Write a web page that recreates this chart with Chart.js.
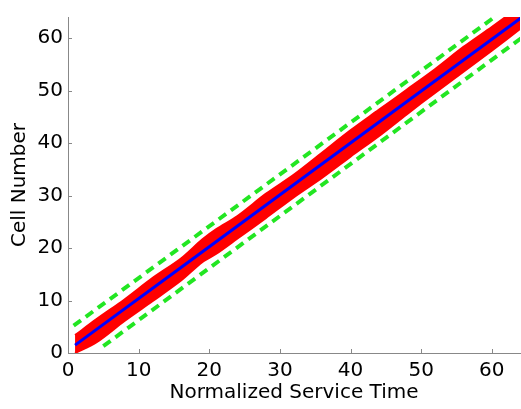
<!DOCTYPE html>
<html>
<head>
<meta charset="utf-8">
<script src="https://cdn.jsdelivr.net/npm/chart.js@4.4.0/dist/chart.umd.min.js"></script>
<style>
  html, body { margin: 0; padding: 0; background: #fff; }
  #wrap { width: 521px; height: 409px; }
</style>
</head>
<body>
<div id="wrap"><canvas id="grafico"></canvas></div>
<script>
// valores
const xBanda = [1, 4, 8, 12, 16, 19, 21, 24, 28, 32, 36, 40, 44, 48, 52, 56, 60, 64];
const bandaSup = [3.4, 6.4, 10.2, 14.3, 18.0, 21.6, 23.6, 26.1, 30.3, 34.0, 38.2, 42.4, 46.3, 50.2, 54.1, 58.3, 62.1, 66.0];
const bandaInf = [0.0, 2.0, 6.1, 9.9, 13.8, 17.3, 18.9, 21.8, 25.7, 29.7, 33.4, 37.4, 41.3, 45.5, 49.6, 53.6, 57.6, 61.7];

const xMedia = [1, 16, 32, 48, 64.2];
const media = [1.5, 16.3, 32.1, 47.9, 63.9];

const xLimSup = [0.8, 60.6];
const limSup = [5.2, 64.2];
const xLimInf = [5.0, 64.2];
const limInf = [1.3, 60.0];

const ticksX = [0, 10, 20, 30, 40, 50, 60];
const ticksY = [0, 10, 20, 30, 40, 50, 60];

const pontos = (xs, ys) => xs.map((x, i) => ({ x: x, y: ys[i] }));

// marcas de tick para dentro da área do gráfico
const ticksInternos = {
  id: 'ticksInternos',
  afterDraw(chart) {
    const { ctx, chartArea, scales } = chart;
    ctx.save();
    ctx.strokeStyle = '#888';
    ctx.lineWidth = 1;
    ctx.beginPath();
    ticksX.forEach(v => {
      const px = Math.round(scales.x.getPixelForValue(v)) + 0.5;
      ctx.moveTo(px, chartArea.bottom);
      ctx.lineTo(px, chartArea.bottom - 4);
    });
    ticksY.forEach(v => {
      const py = Math.round(scales.y.getPixelForValue(v)) + 0.5;
      ctx.moveTo(chartArea.left, py);
      ctx.lineTo(chartArea.left + 4, py);
    });
    ctx.stroke();
    ctx.restore();
  }
};

const fonte = { family: '"DejaVu Sans", sans-serif', size: 20 };

new Chart(document.getElementById('grafico'), {
  type: 'line',
  data: {
    datasets: [
      {
        data: pontos(xLimSup, limSup),
        borderColor: '#22e622',
        borderWidth: 4,
        borderDash: [9, 6],
        pointRadius: 0,
        fill: false,
        order: 1
      },
      {
        data: pontos(xLimInf, limInf),
        borderColor: '#22e622',
        borderWidth: 4,
        borderDash: [9, 6],
        pointRadius: 0,
        fill: false,
        order: 1
      },
      {
        data: pontos(xMedia, media),
        borderColor: '#0000ff',
        borderWidth: 3,
        pointRadius: 0,
        fill: false,
        order: 2
      },
      {
        data: pontos(xBanda, bandaSup),
        borderColor: '#ff0000',
        borderWidth: 2,
        backgroundColor: '#ff0000',
        pointRadius: 0,
        tension: 0.3,
        fill: '+1',
        order: 3
      },
      {
        data: pontos(xBanda, bandaInf),
        borderColor: '#ff0000',
        borderWidth: 2,
        pointRadius: 0,
        tension: 0.3,
        fill: false,
        order: 4
      }
    ]
  },
  options: {
    responsive: true,
    maintainAspectRatio: false,
    animation: false,
    layout: { padding: { top: 7, right: 1, left: 0, bottom: 0 } },
    plugins: {
      legend: { display: false },
      tooltip: { enabled: false }
    },
    scales: {
      x: {
        type: 'linear',
        min: 0,
        max: 64,
        afterFit: s => { s.height = 56; },
        grid: { display: false, drawTicks: false },
        border: { color: '#888', width: 1 },
        ticks: {
          stepSize: 10,
          includeBounds: false,
          padding: 6,
          maxRotation: 0,
          color: '#000',
          font: fonte
        },
        title: {
          display: true,
          text: 'Normalized Service Time',
          color: '#000',
          font: fonte,
          padding: { top: 0, bottom: 4 }
        }
      },
      y: {
        type: 'linear',
        min: 0,
        max: 64,
        afterFit: s => { s.width = 68; },
        grid: { display: false, drawTicks: false },
        border: { color: '#888', width: 1 },
        ticks: {
          stepSize: 10,
          includeBounds: false,
          padding: 5,
          color: '#000',
          font: fonte
        },
        title: {
          display: true,
          text: 'Cell Number',
          color: '#000',
          font: fonte,
          padding: { top: 8, bottom: 0 }
        }
      }
    }
  },
  plugins: [ticksInternos]
});
</script>
</body>
</html>
